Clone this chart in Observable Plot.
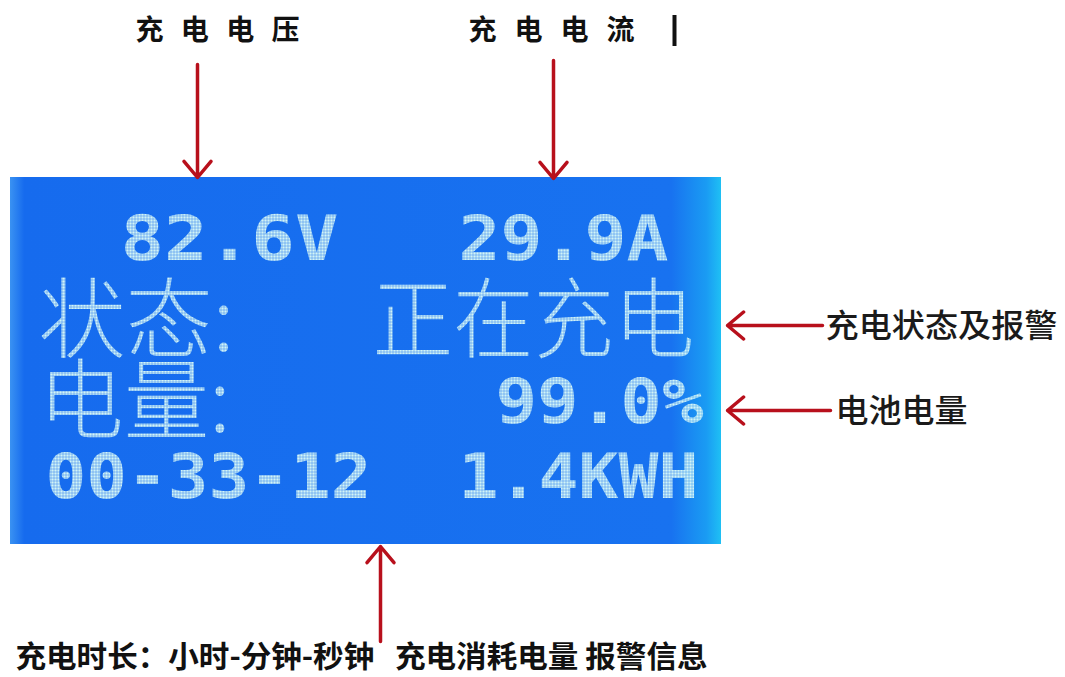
<!DOCTYPE html>
<html><head><meta charset="utf-8">
<script src="https://cdn.jsdelivr.net/npm/d3@7"></script>
<script src="https://cdn.jsdelivr.net/npm/@observablehq/plot@0.6"></script>
<style>html,body{margin:0;padding:0;background:#fff;} svg{display:block}</style>
</head><body><div id="chart"></div>
<script>
// ---- content ----
const lcdLeft = ["82.6V", "状态:", "电量:", "00-33-12"];
const lcdRight = ["29.9A", "正在充电", "99.0%", "1.4KWH"];
const topLabels = ["充电电压", "充电电流"];
const sideLabels = ["充电状态及报警", "电池电量"];
const bottomLabels = ["充电时长：小时-分钟-秒钟   充电消耗电量 报警信息"];

// ---- layout (picture pixel space, 1065 x 677) ----
const rowY = [240, 322, 403, 478];
const leftX = [120, 38, 38, 45];
const rightX = [458, 372, 495, 458];
const leftW = [218, 196, 192, 326];
const rightW = [210, 322, 208, 240];
const leftKind = ["digit", "cjk", "cjk", "digit"];
const rightKind = ["digit", "cjk", "digit", "digit"];

const lcdItems = [
  ...lcdLeft.map((t, i) => ({t, x: leftX[i], y: rowY[i], w: leftW[i], kind: leftKind[i]})),
  ...lcdRight.map((t, i) => ({t, x: rightX[i], y: rowY[i], w: rightW[i], kind: rightKind[i]}))
];
const topItems = topLabels.map((t, i) => ({t, x: [135, 468][i], y: 31, w: [164, 166][i]}));
const sideItems = sideLabels.map((t, i) => ({t, x: [825, 835][i], y: [326, 411][i], w: [232, 132][i]}));
const bottomItems = bottomLabels.map(t => ({t, x: 15, y: 657, w: 692}));

const arrows = [
  {x1: 197, y1: 64, x2: 197, y2: 177},
  {x1: 553, y1: 60, x2: 553, y2: 178},
  {x1: 822, y1: 325, x2: 727, y2: 325},
  {x1: 830, y1: 410, x2: 727, y2: 410},
  {x1: 380, y1: 641, x2: 380, y2: 546}
];

const widthOf = new Map([...lcdItems, ...topItems, ...sideItems, ...bottomItems].map(d => [d.t, d.w]));

const CJK = "'Noto Sans CJK SC', 'Noto Sans', sans-serif";
const MONO = "'DejaVu Sans Mono', 'Liberation Mono', monospace";

const plot = Plot.plot({
  width: 1065, height: 677, margin: 0,
  x: {domain: [0, 1065], range: [0, 1065], axis: null},
  y: {domain: [0, 677], range: [0, 677], axis: null},
  marks: [
    // LCD panel
    Plot.rect([{x1: 10, x2: 721, y1: 177, y2: 544}], {x1: "x1", x2: "x2", y1: "y1", y2: "y2", fill: "url(#lcdGrad)"}),
    Plot.rect([{x1: 32, x2: 700, y1: 198, y2: 528}], {x1: "x1", x2: "x2", y1: "y1", y2: "y2", fill: "#0a5ced", fillOpacity: 0.5, filter: "url(#soft)"}),
    // LCD text
    Plot.text(lcdItems.filter(d => d.kind === "digit"), {
      x: "x", y: "y", text: "t", textAnchor: "start", lineAnchor: "middle",
      fontFamily: MONO, fontWeight: "bold", fontSize: 62, fill: "url(#dots)"
    }),
    Plot.text(lcdItems.filter(d => d.kind === "cjk"), {
      x: "x", y: "y", text: "t", textAnchor: "start", lineAnchor: "middle",
      fontFamily: CJK, fontWeight: 300, fontSize: 88, fill: "url(#dots)"
    }),
    // annotations
    Plot.text(topItems, {
      x: "x", y: "y", text: "t", textAnchor: "start", lineAnchor: "middle",
      fontFamily: CJK, fontWeight: "bold", fontSize: 28, fill: "#111"
    }),
    Plot.ruleX([674], {y1: 15, y2: 46, stroke: "#111", strokeWidth: 4}),
    Plot.text(sideItems, {
      x: "x", y: "y", text: "t", textAnchor: "start", lineAnchor: "middle",
      fontFamily: CJK, fontWeight: 500, fontSize: 32, fill: "#1a1a1a"
    }),
    Plot.text(bottomItems, {
      x: "x", y: "y", text: "t", textAnchor: "start", lineAnchor: "middle",
      fontFamily: CJK, fontWeight: "bold", fontSize: 30, fill: "#111"
    }),
    Plot.arrow(arrows, {
      x1: "x1", y1: "y1", x2: "x2", y2: "y2", bend: 0,
      stroke: "#b8101c", strokeWidth: 3.5, headLength: 9, headAngle: 80
    })
  ]
});

const svg = d3.select(plot);
const defs = svg.insert("defs", ":first-child");
const g = defs.append("linearGradient").attr("id", "lcdGrad").attr("x1", 0).attr("x2", 1).attr("y1", 0).attr("y2", 0);
g.append("stop").attr("offset", "0%").attr("stop-color", "#3a92f2");
g.append("stop").attr("offset", "2%").attr("stop-color", "#166bee");
g.append("stop").attr("offset", "93%").attr("stop-color", "#1872f0");
g.append("stop").attr("offset", "98%").attr("stop-color", "#1a9cf3");
g.append("stop").attr("offset", "100%").attr("stop-color", "#1fc0f4");
const f = defs.append("filter").attr("id", "soft").attr("x", "-10%").attr("y", "-10%").attr("width", "120%").attr("height", "120%");
f.append("feGaussianBlur").attr("stdDeviation", 10);
const p = defs.append("pattern").attr("id", "dots").attr("patternUnits", "userSpaceOnUse").attr("width", 3).attr("height", 3);
p.append("rect").attr("width", 2.6).attr("height", 2.6).attr("fill", "#d2f4f6");

svg.selectAll("text").each(function() {
  const t = this.textContent;
  if (widthOf.has(t)) {
    d3.select(this).attr("textLength", widthOf.get(t)).attr("lengthAdjust", "spacingAndGlyphs");
  }
});
// top labels keep glyph shapes, spread via spacing
svg.selectAll("text").filter(function() { return topLabels.includes(this.textContent); }).attr("lengthAdjust", "spacing");
svg.selectAll("text").filter(function() { return bottomLabels.includes(this.textContent); }).style("white-space", "pre");

document.getElementById("chart").appendChild(plot);
</script>
</body></html>
